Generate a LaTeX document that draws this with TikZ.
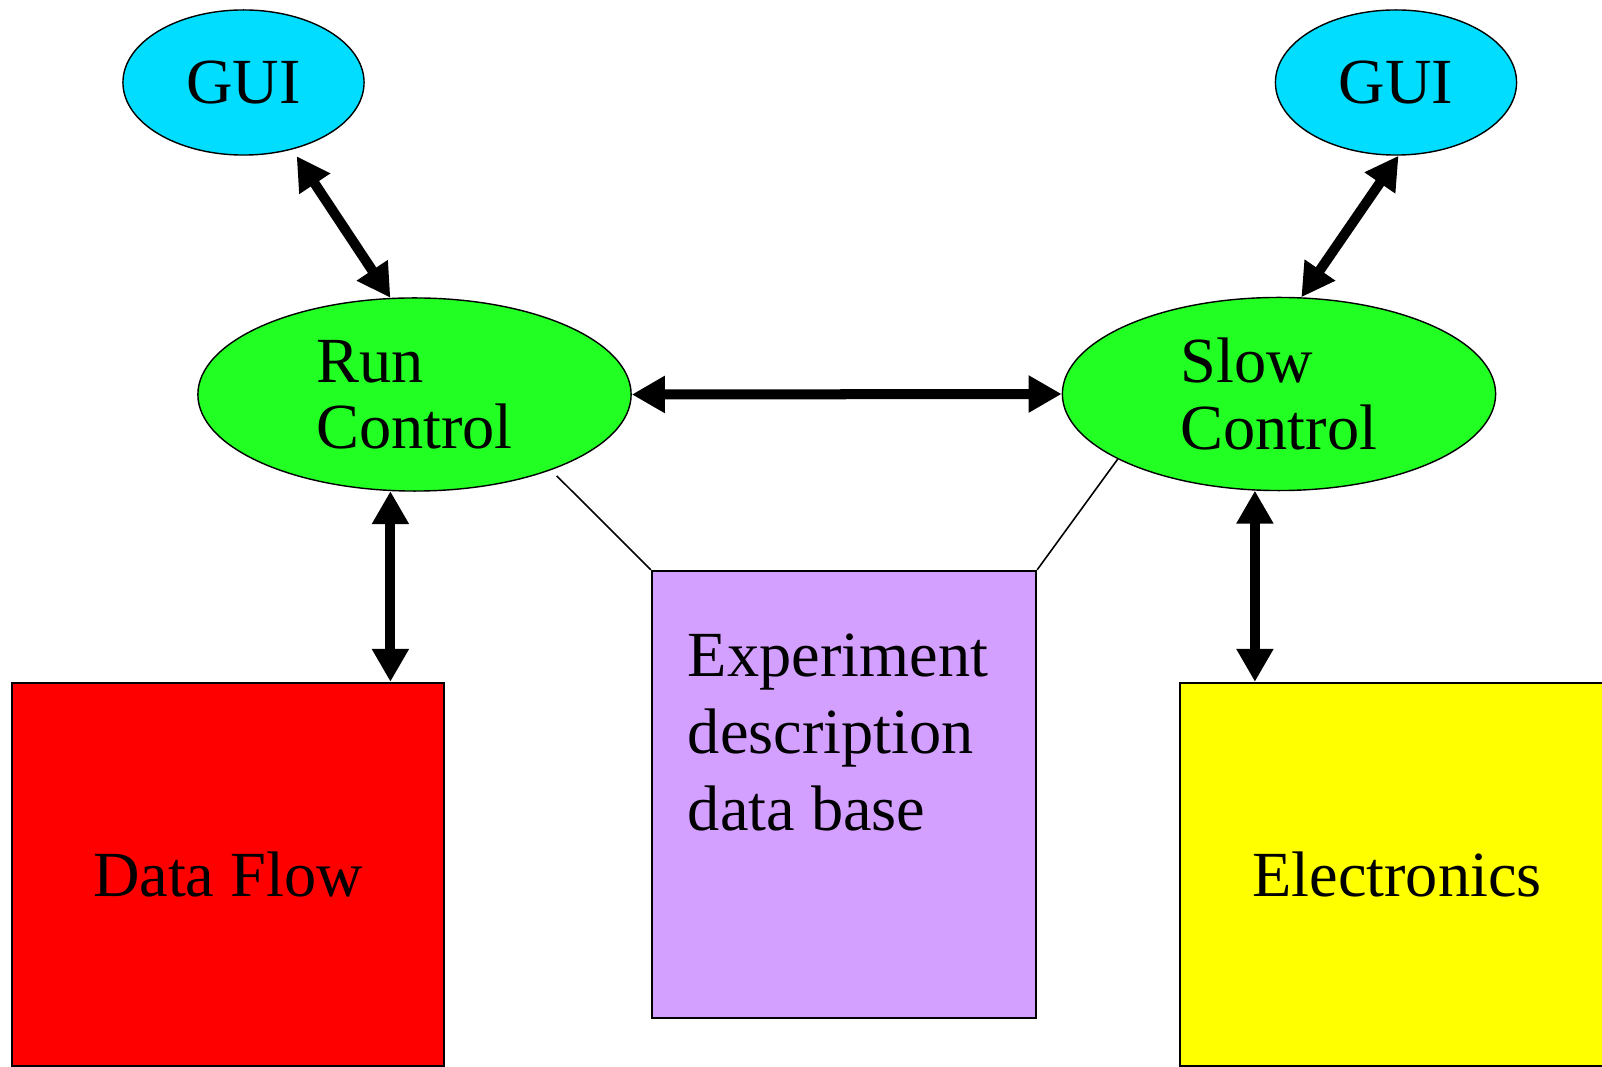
\documentclass[tikz,border=0pt]{standalone}
\usepackage{fontspec}
\setmainfont{Liberation Serif}
\usetikzlibrary{arrows.meta,shapes.geometric}

\definecolor{guicyan}{RGB}{0,221,255}
\definecolor{ctrlgreen}{RGB}{34,255,34}
\definecolor{dbviolet}{RGB}{212,160,255}
\definecolor{flowred}{RGB}{255,0,0}
\definecolor{elecyellow}{RGB}{255,255,0}

\newcommand{\boxfont}{\fontsize{18.3}{18.8}\selectfont}

\tikzset{
	gui/.style={ellipse, draw, line width=0.4pt, fill=guicyan, minimum width=2.41cm, minimum height=1.45cm, inner sep=0pt, font=\boxfont},
	ctrl/.style={ellipse, draw, line width=0.4pt, fill=ctrlgreen, minimum width=4.33cm, minimum height=1.93cm, inner sep=0pt, align=left, font=\boxfont},
	block/.style={rectangle, draw, line width=0.6pt, inner sep=0pt, font=\boxfont},
	link/.style={line width=0.1cm, {Triangle[length=0.33cm,width=0.35cm]}-{Triangle[length=0.33cm,width=0.35cm]}},
	wire/.style={line width=0.45pt}
}

\begin{document}
\begin{tikzpicture}[x=0.01cm, y=-0.01cm]
			%%%%% START %%%%%
			\useasboundingbox (0, 0) rectangle (1602, 1067);
			
			\node[gui] (guirun) at (243.5, 82.5) {GUI};
			\node[gui] (guislow) at (1396, 82.5) {GUI};
			
			\node[ctrl] (run) at (414.5, 394.5) {Run\\Control};
			\node[ctrl] (slow) at (1279, 394) {Slow\\Control};
			
			\node[block, fill=flowred, minimum width=4.32cm, minimum height=3.83cm] (flow) at (228, 874.5) {Data Flow};
			\node[block, fill=elecyellow, minimum width=4.34cm, minimum height=3.83cm] (elec) at (1397, 874.5) {Electronics};
			\node[block, fill=dbviolet, minimum width=3.84cm, minimum height=4.47cm] (db) at (844, 794.5) {};
			\node[anchor=north, align=left, inner sep=0pt, font=\fontsize{18.3}{21.9}\selectfont] (dbtext) at (838, 633) {Experiment\\description\\data base};
			
			\draw[link, shorten <=0.08cm] (guirun.-54) -- (run.104);
			\draw[link] (guislow.-88) -- (slow.77);
			\draw[link] (run.east) -- (slow.west);
			
			\draw[link] (run.256) -- (run.256 |- flow.north);
			\draw[link] (slow.256) -- (slow.256 |- elec.north);
			
			\draw[wire, shorten <=0.08cm] (run.-29) -- (db.north west);
			\draw[wire] (slow.202) -- (db.north east);
			%%%%% END %%%%%
\end{tikzpicture}
\end{document}
